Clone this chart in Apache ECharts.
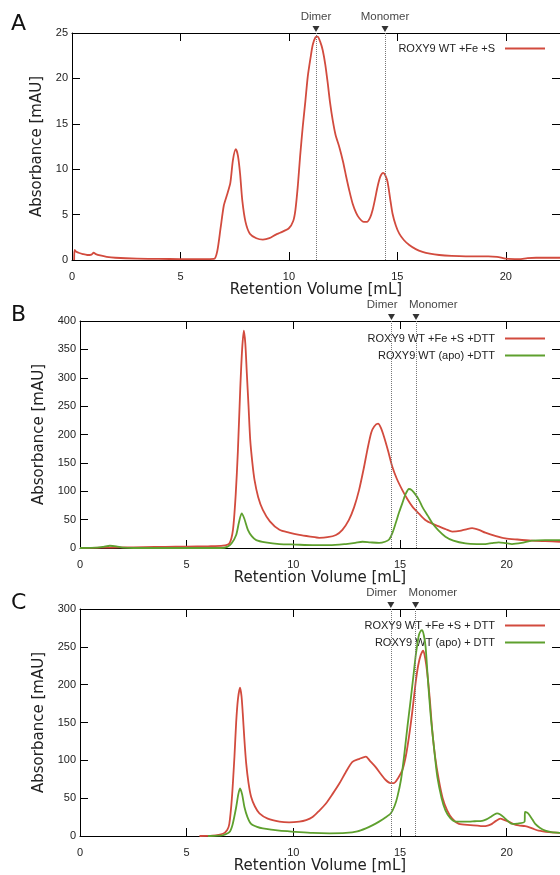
<!DOCTYPE html>
<html>
<head>
<meta charset="utf-8">
<script src="https://cdn.jsdelivr.net/npm/echarts@6/dist/echarts.min.js"></script>
<style>html,body{margin:0;padding:0;background:#fff}#c{width:560px;height:875px}</style>
</head>
<body>
<div id="c"></div>
<script>
// ---- data (retention volume mL, absorbance mAU) ----
const xTicks = [0, 5, 10, 15, 20];
const panelLetters = ['A', 'B', 'C'];
const markerNames = ['Dimer', 'Monomer'];
const markersA = [11.25, 14.43];
const markersB = [14.6, 15.75];
const markersC = [14.57, 15.73];
const yMaxA = 25, yMaxB = 400, yMaxC = 300;

const nameA_red = 'ROXY9 WT +Fe +S';
const nameB_red = 'ROXY9 WT +Fe +S +DTT';
const nameB_green = 'ROXY9 WT (apo) +DTT';
const nameC_red = 'ROXY9 WT +Fe +S + DTT';
const nameC_green = 'ROXY9 WT (apo) + DTT';

const A_red = [[0.1,0],[0.12,1.1],[0.2,0.9],[0.3,0.8],[0.5,0.65],[0.7,0.55],[0.9,0.6],[1.0,0.8],[1.1,0.65],[1.3,0.5],[1.6,0.35],[2.0,0.25],[3.0,0.15],[4.0,0.12],[5.0,0.1],[6.0,0.1],[6.55,0.12],[6.7,1.0],[6.85,3.5],[7.0,6.0],[7.15,7.2],[7.3,8.5],[7.42,11.0],[7.55,12.2],[7.65,11.5],[7.75,9.5],[7.85,6.6],[8.0,4.2],[8.2,2.9],[8.5,2.4],[8.8,2.25],[9.1,2.4],[9.4,2.8],[9.6,3.0],[10.0,3.5],[10.2,4.3],[10.3,5.5],[10.41,8.1],[10.52,11.5],[10.64,14.7],[10.76,17.5],[10.87,20.2],[11.0,22.3],[11.1,23.7],[11.22,24.5],[11.32,24.6],[11.45,24.0],[11.56,23.1],[11.68,21.5],[11.79,19.5],[11.9,17.3],[12.02,15.4],[12.15,13.8],[12.33,12.4],[12.5,10.8],[12.64,9.2],[12.8,7.5],[12.94,6.2],[13.1,5.2],[13.25,4.6],[13.45,4.2],[13.6,4.2],[13.75,4.7],[13.86,5.5],[13.98,6.8],[14.09,8.1],[14.22,9.2],[14.35,9.6],[14.45,9.3],[14.55,8.6],[14.66,6.9],[14.78,5.1],[14.93,3.8],[15.09,2.9],[15.3,2.2],[15.55,1.65],[15.85,1.2],[16.16,0.9],[16.5,0.7],[16.93,0.55],[17.5,0.45],[18.16,0.4],[19.2,0.4],[19.6,0.35],[20.0,0.15],[20.6,0.1],[21.0,0.2],[21.4,0.25],[22.5,0.25]];

const B_red = [[0,0],[1,0.5],[2,1],[3,1.5],[4,2],[5,2.5],[6,3],[6.7,4],[7.0,8],[7.17,32],[7.3,95],[7.4,170],[7.51,279],[7.6,350],[7.68,383],[7.75,360],[7.82,308],[7.9,250],[7.98,190],[8.08,150],[8.18,120],[8.35,90],[8.57,67],[8.9,47],[9.35,32],[9.8,27],[10.28,23],[10.8,20],[11.21,18],[11.6,19],[12.0,23],[12.3,32],[12.6,49],[12.85,72],[13.08,102],[13.3,140],[13.47,173],[13.65,203],[13.79,214],[13.97,219],[14.1,212],[14.25,196],[14.45,170],[14.64,143],[14.85,122],[15.11,102],[15.35,86],[15.58,73],[15.9,60],[16.2,49],[16.5,43],[16.82,38],[17.15,33],[17.45,29],[17.8,30],[18.1,33],[18.38,35],[18.7,32],[19.0,27],[19.5,21],[19.94,17],[20.5,15],[21.18,13],[21.8,12],[22.5,11]];

const B_green = [[0,0],[0.8,0.5],[1.1,2],[1.4,4],[1.7,3],[2.0,0.8],[2.5,0],[6.0,0],[6.6,0],[6.9,2],[7.1,8],[7.32,23],[7.45,45],[7.58,61],[7.7,52],[7.87,32],[8.05,21],[8.26,14],[8.7,10],[9.35,7],[10.1,6],[10.9,5],[11.7,5],[12.46,7],[12.9,9],[13.24,11],[13.6,10],[14.02,9],[14.3,11],[14.49,15],[14.65,27],[14.8,44],[14.95,62],[15.11,79],[15.25,94],[15.42,104],[15.55,102],[15.73,94],[15.9,84],[16.04,73],[16.3,57],[16.51,44],[16.8,31],[17.13,20],[17.5,13],[18.07,8],[18.6,7],[19.0,7],[19.3,8.5],[19.63,10],[19.95,8.5],[20.25,7],[20.7,9],[21.18,13],[21.8,14],[22.5,14]];

const C_red = [[5.6,0],[6.2,0.5],[6.7,3],[6.9,8],[7.0,16],[7.12,50],[7.24,105],[7.32,150],[7.4,180],[7.5,196],[7.57,185],[7.63,162],[7.7,130],[7.79,96],[7.9,70],[8.02,52],[8.2,39],[8.41,30],[8.8,23],[9.35,19],[9.8,18],[10.28,19],[10.6,21],[10.9,25],[11.2,33],[11.53,43],[11.85,56],[12.15,69],[12.45,84],[12.77,98],[13.1,102],[13.4,105],[13.6,99],[13.86,91],[14.1,82],[14.33,74],[14.55,70],[14.72,70],[14.9,76],[15.11,87],[15.27,105],[15.42,131],[15.58,165],[15.73,202],[15.85,225],[15.97,239],[16.09,245],[16.18,235],[16.28,215],[16.4,180],[16.51,140],[16.65,104],[16.82,74],[17.0,50],[17.21,34],[17.45,23],[17.76,16],[18.3,14.5],[19.0,13],[19.15,14],[19.31,16],[19.5,20],[19.7,23],[19.9,21],[20.09,19],[20.3,16],[20.56,14],[20.87,13],[21.2,10],[21.5,7],[22.0,5],[22.5,4]];

const C_green = [[6.0,0],[6.5,0.5],[6.7,1],[7.0,5],[7.15,15],[7.32,38],[7.42,55],[7.5,63],[7.6,55],[7.71,38],[7.85,25],[8.02,16],[8.3,12],[8.57,10],[9.35,7],[10.1,5.5],[10.9,4],[11.7,3.5],[12.46,4],[13.0,6],[13.4,10],[13.7,14],[14.02,19],[14.3,24],[14.57,30],[14.75,40],[14.88,52],[15.05,75],[15.19,105],[15.35,145],[15.5,180],[15.63,212],[15.73,237],[15.82,255],[15.89,266],[15.97,271],[16.04,272],[16.12,265],[16.2,250],[16.3,210],[16.43,162],[16.6,115],[16.75,78],[16.95,50],[17.13,34],[17.35,24],[17.6,19],[17.9,19],[18.22,19],[18.5,19.5],[18.85,20],[19.05,22],[19.24,25],[19.4,28],[19.55,30],[19.7,28.5],[19.86,25],[20.05,20],[20.25,16],[20.5,16.5],[20.84,19],[20.86,32],[20.95,31],[21.03,29],[21.2,22],[21.34,16],[21.55,11],[21.81,7],[22.1,5],[22.5,4]];

// ---- styling / layout ----
const RED = '#d24b3e', GREEN = '#5ea02e';
const XMAX = 22.5;
const grids = [
  {left: 72, top: 33, width: 489, height: 227},
  {left: 80, top: 321, width: 482, height: 227},
  {left: 80, top: 609, width: 482, height: 227}
];
const yMaxes = [yMaxA, yMaxB, yMaxC];
const yIntervals = [5, 50, 50];
const xNameGaps = [15, 20, 18];
const yNameGaps = [26, 33, 33];
const tickFont = {fontFamily: 'Liberation Sans', fontSize: 11, color: '#222'};
const titleFont = {fontFamily: 'DejaVu Sans', fontSize: 15, color: '#222'};
const axisLine = {show: true, onZero: false, lineStyle: {color: '#000', width: 1}};

const xAxes = [], yAxes = [];
grids.forEach((g, i) => {
  xAxes.push({type: 'value', gridIndex: i, min: 0, max: XMAX, interval: 5, position: 'bottom',
    axisLine, axisTick: {inside: true, length: 8, lineStyle: {color: '#000'}},
    axisLabel: Object.assign({margin: 11, showMaxLabel: false}, tickFont), splitLine: {show: false},
    name: 'Retention Volume [mL]', nameLocation: 'middle', nameGap: xNameGaps[i], nameTextStyle: titleFont});
  xAxes.push({type: 'value', gridIndex: i, min: 0, max: XMAX, interval: 5, position: 'top',
    axisLine, axisTick: {inside: true, length: 8, lineStyle: {color: '#000'}},
    axisLabel: {show: false}, splitLine: {show: false}});
  yAxes.push({type: 'value', gridIndex: i, min: 0, max: yMaxes[i], interval: yIntervals[i], position: 'left',
    axisLine, axisTick: {inside: true, length: 8, lineStyle: {color: '#000'}},
    axisLabel: Object.assign({margin: 4}, tickFont), splitLine: {show: false},
    name: 'Absorbance [mAU]', nameLocation: 'middle', nameGap: yNameGaps[i], nameTextStyle: titleFont});
  yAxes.push({type: 'value', gridIndex: i, min: 0, max: yMaxes[i], interval: yIntervals[i], position: 'right',
    axisLine, axisTick: {inside: true, length: 8, lineStyle: {color: '#000'}},
    axisLabel: {show: false}, splitLine: {show: false}});
});

function curve(name, data, color, gi, z) {
  return {type: 'line', name, data, xAxisIndex: gi * 2, yAxisIndex: gi * 2,
    showSymbol: false, symbol: 'none', smooth: 0.25, z: z || 3,
    lineStyle: {color, width: 1.8}, itemStyle: {color}};
}
function vlines(xs, gi) {
  return {type: 'line', data: [], xAxisIndex: gi * 2, yAxisIndex: gi * 2, silent: true,
    markLine: {silent: true, symbol: 'none', animation: false,
      lineStyle: {color: '#777', type: 'dotted', width: 1},
      label: {show: false}, data: xs.map(v => ({xAxis: v}))}};
}
// labelAligns: per-marker [align, dx]
function markers(xs, gi, labelAligns) {
  return {type: 'scatter', xAxisIndex: gi * 2, yAxisIndex: gi * 2, clip: false, silent: true,
    symbol: 'triangle', symbolRotate: 180, symbolSize: [7, 6], symbolOffset: [0, -4],
    itemStyle: {color: '#000'}, z: 5,
    label: {show: true, position: 'top', distance: 3, formatter: p => p.name,
      fontFamily: 'Liberation Sans', fontSize: 11.5, color: '#111'},
    data: xs.map((v, k) => {
      const d = {name: markerNames[k], value: [v, yMaxes[gi]]};
      if (labelAligns) d.label = {align: labelAligns[k][0], offset: [labelAligns[k][1], 0]};
      return d;
    })};
}

const splitAligns = [['right', 6], ['left', -7]];
const series = [
  vlines(markersA, 0), markers(markersA, 0, null), curve(nameA_red, A_red, RED, 0),
  vlines(markersB, 1), markers(markersB, 1, splitAligns), curve(nameB_red, B_red, RED, 1), curve(nameB_green, B_green, GREEN, 1, 4),
  vlines(markersC, 2), markers(markersC, 2, splitAligns), curve(nameC_red, C_red, RED, 2), curve(nameC_green, C_green, GREEN, 2, 4)
];

function legend(names, colors, top) {
  return {show: true, top, right: 15, orient: 'vertical', align: 'right', padding: 0,
    itemWidth: 40, itemHeight: 2, itemGap: 4, icon: 'rect',
    textStyle: {fontFamily: 'Liberation Sans', fontSize: 11, color: '#222', lineHeight: 13, padding: [0, 5, 0, 0]},
    data: names.map((n, k) => ({name: n, icon: 'rect', itemStyle: {color: colors[k]}}))};
}

const letterTops = [13, 304, 592];
const option = {
  animation: false,
  backgroundColor: '#fff',
  grid: grids,
  xAxis: xAxes,
  yAxis: yAxes,
  legend: [
    legend([nameA_red], [RED], 42),
    legend([nameB_red, nameB_green], [RED, GREEN], 332),
    legend([nameC_red, nameC_green], [RED, GREEN], 619)
  ],
  graphic: panelLetters.map((t, i) => ({type: 'text', left: 11, top: letterTops[i],
    style: {text: t, font: '22px "DejaVu Sans"', fill: '#111'}})),
  series
};
const chart = echarts.init(document.getElementById('c'), null, {renderer: 'canvas'});
chart.setOption(option);
</script>
</body>
</html>
